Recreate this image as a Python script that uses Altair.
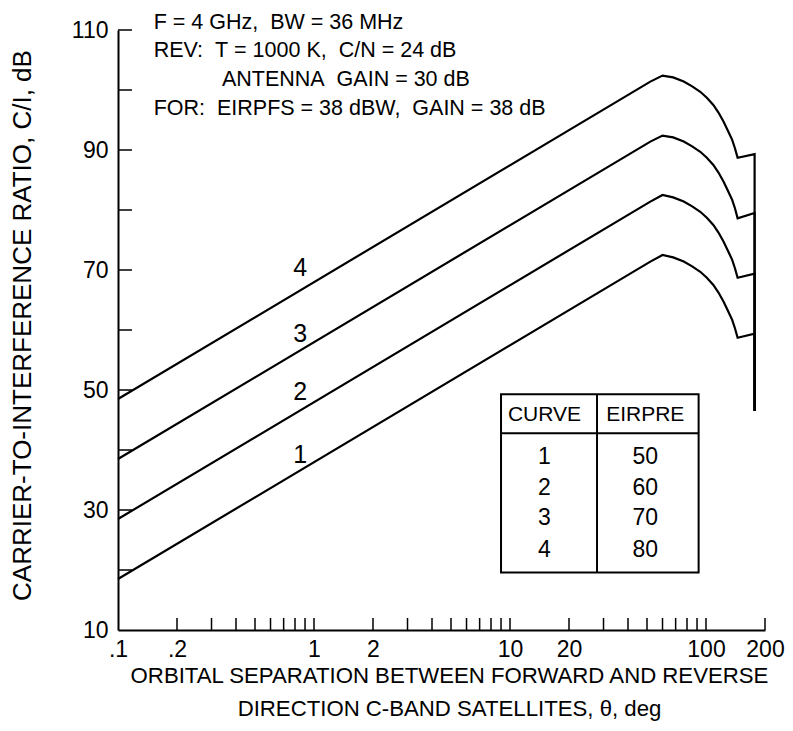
import altair as alt
import pandas as pd

# ---------------- data ----------------
theta = [0.1, 52, 60, 68, 77, 85, 93.5, 101, 109, 116, 123, 129, 136, 140.5, 145, 177, 177]
curve1 = [18.5, 71.4, 72.5, 72.1, 71.4, 70.6, 69.7, 68.7, 67.5, 66.2, 64.7, 63.3, 61.7, 60.3, 58.7, 59.4, 46.5]
curve2 = [28.5, 81.4, 82.5, 82.1, 81.4, 80.6, 79.7, 78.7, 77.5, 76.2, 74.7, 73.3, 71.7, 70.3, 68.7, 69.4, 46.5]
curve3 = [38.5, 91.4, 92.4, 92.1, 91.4, 90.6, 89.7, 88.7, 87.5, 86.2, 84.7, 83.3, 81.7, 80.3, 78.6, 79.5, 46.5]
curve4 = [48.5, 101.4, 102.4, 102.1, 101.4, 100.6, 99.7, 98.7, 97.5, 96.2, 94.7, 93.3, 91.7, 90.3, 88.7, 89.3, 46.5]

curve_names = ["1", "2", "3", "4"]
eirpre = ["50", "60", "70", "80"]

# curve label positions (theta, C/I)
label_theta = [0.85, 0.85, 0.85, 0.85]
label_ci = [39.2, 49.7, 59.4, 70.3]

x_tick_values = [0.2, 0.3, 0.4, 0.5, 0.6, 0.7, 0.8, 0.9, 1, 2, 3, 4, 5, 6, 7, 8, 9, 10,
                 20, 30, 40, 50, 60, 70, 80, 90, 100, 200]
x_label_values = [0.1, 0.2, 1, 2, 10, 20, 100, 200]
y_tick_values = [20, 30, 40, 50, 60, 70, 80, 90, 100, 110]
y_label_values = [10, 30, 50, 70, 90, 110]

NB = "\u00a0"
notes = ["F" + NB + "=" + NB + "4 GHz," + NB + NB + "BW" + NB + "=" + NB + "36 MHz",
         "REV:" + NB + NB + "T" + NB + "=" + NB + "1000 K," + NB + NB + "C/N" + NB + "=" + NB + "24 dB",
         "ANTENNA" + NB + NB + "GAIN" + NB + "=" + NB + "30 dB",
         "FOR:" + NB + NB + "EIRPFS" + NB + "=" + NB + "38 dBW," + NB + NB + "GAIN" + NB + "=" + NB + "38 dB"]
notes_theta = [0.152, 0.152, 0.339, 0.152]
notes_ci = [110.2, 105.5, 100.7, 95.8]

# table geometry in data coordinates
table_x = [9.0, 91.7]
table_y = [19.6, 49.3]
table_header_y = 42.8
table_div_x = 27.8
table_col_x = [15.0, 49.0]
table_head_ci = 45.8
table_row_ci = [38.9, 33.6, 28.6, 23.3]

FONT = "Liberation Sans, Arial, sans-serif"
W, H = 647, 600

# ---------------- tables ----------------
rows = []
for name, vals in zip(curve_names, [curve1, curve2, curve3, curve4]):
    for i, (t, v) in enumerate(zip(theta, vals)):
        rows.append({"theta": t, "ci": v, "curve": name, "order": i})
df_curves = pd.DataFrame(rows)

xs = alt.Scale(type="log", domain=[0.1, 200], nice=False)
ys = alt.Scale(domain=[10, 110], nice=False, zero=False)

x_axis = alt.Axis(
    values=x_label_values, ticks=False, grid=False,
    labelExpr="datum.value < 1 ? '.' + round(datum.value * 10) : '' + datum.value",
    labelFont=FONT, labelFontSize=23, labelColor="black", labelPadding=8,
    labelFlush=False, labelOverlap=False,
    title=["ORBITAL SEPARATION BETWEEN FORWARD AND REVERSE",
           "DIRECTION C-BAND SATELLITES, \u03b8, deg"],
    titleFont=FONT, titleFontSize=22.2, titleFontWeight="normal", titleColor="black",
    titleX=331, titleY=34, titleAnchor="middle", titleAlign="center",
    titleBaseline="top", titleLineHeight=33,
    domainColor="black", domainWidth=2,
)
y_axis = alt.Axis(
    values=y_label_values, ticks=False, grid=False,
    labelFont=FONT, labelFontSize=23, labelColor="black", labelPadding=10,
    labelFlush=False, labelOverlap=False,
    title="CARRIER-TO-INTERFERENCE RATIO, C/I, dB",
    titleFont=FONT, titleFontSize=26, titleFontWeight="normal", titleColor="black",
    titleX=-96, titleY=295, titleAngle=270, titleAlign="center", titleBaseline="middle",
    domainColor="black", domainWidth=2,
)

lines = alt.Chart(df_curves).mark_line(color="black", strokeWidth=2.2).encode(
    x=alt.X("theta:Q", scale=xs, axis=x_axis),
    y=alt.Y("ci:Q", scale=ys, axis=y_axis),
    detail="curve:N",
    order="order:Q",
)

xt = alt.Chart(pd.DataFrame({"t": x_tick_values})).mark_rule(color="black", strokeWidth=1.5).encode(
    x=alt.X("t:Q", scale=xs), y=alt.value(H), y2=alt.value(H - 12)
)
yt = alt.Chart(pd.DataFrame({"v": y_tick_values})).mark_rule(color="black", strokeWidth=1.5).encode(
    y=alt.Y("v:Q", scale=ys), x=alt.value(0), x2=alt.value(14)
)

curve_labels = alt.Chart(pd.DataFrame({"t": label_theta, "v": label_ci, "s": curve_names})).mark_text(
    font=FONT, fontSize=25, color="black", align="center", baseline="middle"
).encode(x=alt.X("t:Q", scale=xs), y=alt.Y("v:Q", scale=ys), text="s:N")

note_text = alt.Chart(pd.DataFrame({"t": notes_theta, "v": notes_ci, "s": notes})).mark_text(
    font=FONT, fontSize=21.5, color="black", align="left", baseline="alphabetic"
).encode(x=alt.X("t:Q", scale=xs), y=alt.Y("v:Q", scale=ys), text="s:N")

box = alt.Chart(pd.DataFrame({"x1": [table_x[0]], "x2": [table_x[1]],
                              "y1": [table_y[0]], "y2": [table_y[1]]})).mark_rect(
    fill="white", stroke="black", strokeWidth=2
).encode(x=alt.X("x1:Q", scale=xs), x2="x2:Q", y=alt.Y("y1:Q", scale=ys), y2="y2:Q")

hline = alt.Chart(pd.DataFrame({"x1": [table_x[0]], "x2": [table_x[1]], "y": [table_header_y]})).mark_rule(
    color="black", strokeWidth=2
).encode(x=alt.X("x1:Q", scale=xs), x2="x2:Q", y=alt.Y("y:Q", scale=ys))

vline = alt.Chart(pd.DataFrame({"x": [table_div_x], "y1": [table_y[0]], "y2": [table_y[1]]})).mark_rule(
    color="black", strokeWidth=2
).encode(x=alt.X("x:Q", scale=xs), y=alt.Y("y1:Q", scale=ys), y2="y2:Q")

head = alt.Chart(pd.DataFrame({"t": table_col_x, "v": [table_head_ci] * 2, "s": ["CURVE", "EIRPRE"]})).mark_text(
    font=FONT, fontSize=21, color="black", align="center", baseline="middle"
).encode(x=alt.X("t:Q", scale=xs), y=alt.Y("v:Q", scale=ys), text="s:N")

body_rows = []
for c, e, v in zip(curve_names, eirpre, table_row_ci):
    body_rows.append({"t": table_col_x[0], "v": v, "s": c})
    body_rows.append({"t": table_col_x[1], "v": v, "s": e})
body = alt.Chart(pd.DataFrame(body_rows)).mark_text(
    font=FONT, fontSize=23, color="black", align="center", baseline="middle"
).encode(x=alt.X("t:Q", scale=xs), y=alt.Y("v:Q", scale=ys), text="s:N")

chart = alt.layer(lines, xt, yt, curve_labels, note_text, box, hline, vline, head, body).properties(
    width=W, height=H,
    autosize=alt.AutoSizeParams(type="none"),
    padding={"left": 110, "top": 22, "right": 20, "bottom": 93},
    background="white",
).configure_view(stroke=None)

chart.save("out.html", embed_options={"renderer": "svg", "actions": False})
